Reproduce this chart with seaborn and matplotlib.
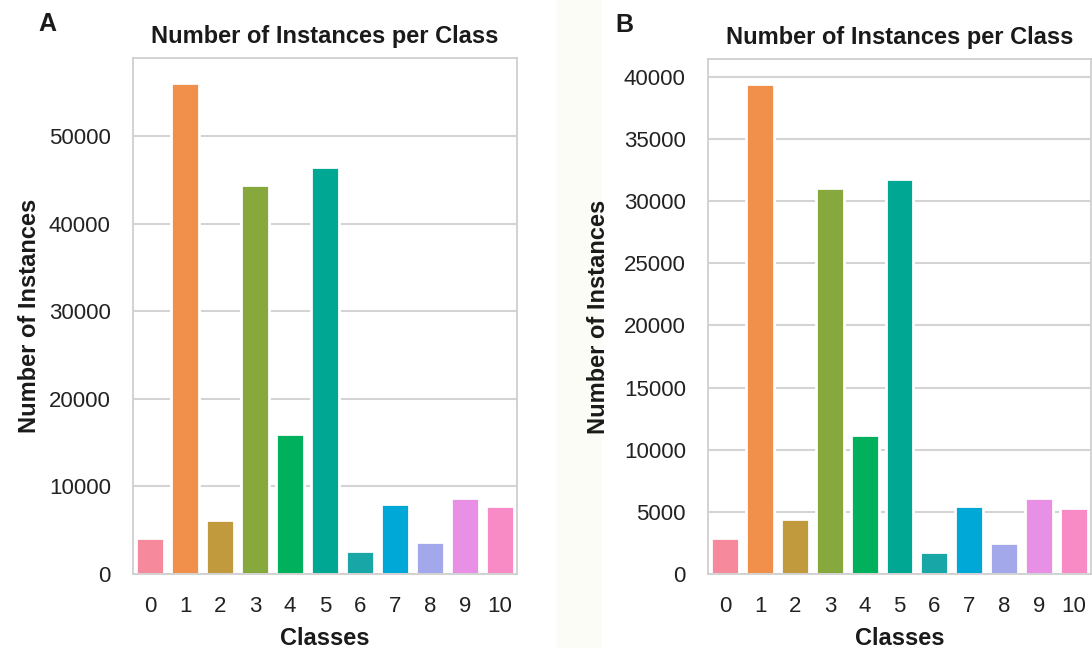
import matplotlib
matplotlib.use("Agg")
import matplotlib.pyplot as plt
import seaborn as sns
import pandas as pd
from matplotlib.patches import Rectangle

# Class labels and per-class instance counts for the two datasets
classes = ["0", "1", "2", "3", "4", "5", "6", "7", "8", "9", "10"]
counts_a = [4070, 56140, 6160, 44410, 16000, 46500, 2610, 7940, 3630, 8690, 7740]
counts_b = [2860, 39450, 4440, 31040, 11160, 31790, 1750, 5440, 2470, 6140, 5300]
yticks_a = [0, 10000, 20000, 30000, 40000, 50000]
yticks_b = [0, 5000, 10000, 15000, 20000, 25000, 30000, 35000, 40000]

# one hue per class, running round the colour wheel
class_colors = ["#f7899d", "#f0904a", "#c19a3d", "#86a83c", "#00b05c", "#00a893",
                "#18a6a6", "#00a8d8", "#a2a8ea", "#e890e6", "#f88ac6"]

sns.set_theme(style="whitegrid")
plt.rcParams["font.family"] = ["Liberation Sans", "DejaVu Sans"]
plt.rcParams.update({
    "grid.color": "#d4d4d4",
    "grid.linewidth": 1.5,
    "axes.edgecolor": "#cfcfcf",
    "axes.linewidth": 1.3,
    "text.color": "#1a1a1a",
    "axes.labelcolor": "#1a1a1a",
})

W, H = 1092, 648
fig = plt.figure(figsize=(W / 100, H / 100), dpi=100)


def frac(left, top, right, bottom):
    return [left / W, 1 - bottom / H, (right - left) / W, (bottom - top) / H]


# faint off-white strip between the two panels
fig.patches.append(Rectangle((557 / W, 0), 45 / W, 1, transform=fig.transFigure,
                             facecolor="#fcfcf6", edgecolor="none", zorder=-1))

ax_a = fig.add_axes(frac(133, 58, 517, 574))
ax_b = fig.add_axes(frac(708, 59, 1091, 574))


def panel(ax, counts, yticks, ylab_x):
    df = pd.DataFrame({"Classes": classes, "Count": counts})
    sns.barplot(data=df, x="Classes", y="Count", hue="Classes",
                order=classes, hue_order=classes, palette=class_colors,
                saturation=1, legend=False, width=0.8, edgecolor="white",
                linewidth=2, ax=ax)
    ax.set_xlim(-0.5, 10.5)
    ax.set_ylim(0, max(counts) * 1.05)
    ax.set_yticks(yticks)
    ax.xaxis.grid(False)
    ax.set_axisbelow(True)
    ax.tick_params(axis="both", labelsize=16, pad=16, length=0, colors="#222222")
    ax.set_title("Number of Instances per Class", fontsize=17,
                 fontweight="bold", pad=11)
    ax.set_xlabel("Classes", fontsize=17, fontweight="bold")
    ax.set_ylabel("Number of Instances", fontsize=17, fontweight="bold")
    ax.xaxis.set_label_coords(0.5, -0.103)
    ax.yaxis.set_label_coords(ylab_x, 0.5)


panel(ax_a, counts_a, yticks_a, -0.24)
panel(ax_b, counts_b, yticks_b, -0.256)

fig.text(47 / W, 1 - 24 / H, "A", fontsize=18, fontweight="bold",
         ha="center", va="center")
fig.text(624 / W, 1 - 25 / H, "B", fontsize=18, fontweight="bold",
         ha="center", va="center")

fig.savefig("out.png", dpi=100)
